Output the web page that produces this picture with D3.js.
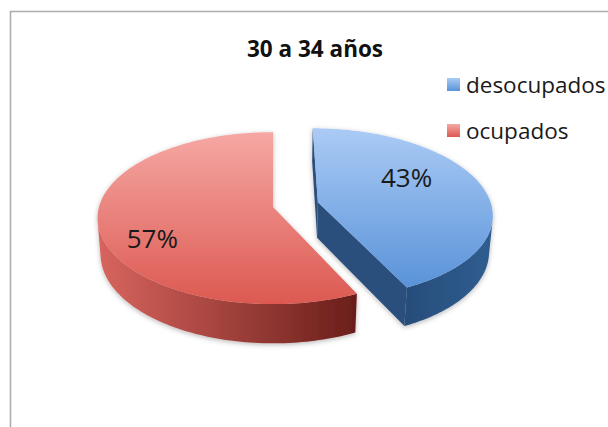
<!DOCTYPE html>
<html>
<head>
<meta charset="utf-8">
<script src="https://cdn.jsdelivr.net/npm/d3@7/dist/d3.min.js"></script>
<style>
  html, body { margin: 0; padding: 0; background: #ffffff; }
  svg { display: block; }
</style>
</head>
<body>
<svg id="chart" width="608" height="427"></svg>
<script>
// ---- data ----
const chartTitle = "30 a 34 años";
const categories = ["desocupados", "ocupados"];
const values = [43, 57];
const pctLabels = ["43%", "57%"];

// ---- style / layout constants ----
const FONT = "'Open Sans', 'DejaVu Sans', sans-serif";
const topColors  = [["#aacbf5", "#5a93d9"], ["#f6a8a4", "#dc5951"]];
const wallColors = [["#1f3c63", "#2f5d90"], ["#d8655e", "#6a1e1a"]];
const cutColors  = ["#2c507c", "#8f302b"];
const explodeAmt = [0.266, 0];
const labelNudge = [[-10, -14], [-17, 20]];

const svg = d3.select("#chart");
const W = 608, H = 427;
svg.append("rect").attr("width", W).attr("height", H).attr("fill", "#fff");

// frame (extends past the right and bottom edges)
svg.append("path").attr("d", "M10.5,427 V11.5 H608")
  .attr("fill", "none").attr("stroke", "#adadad").attr("stroke-width", 1.6);

// title
svg.append("text").attr("x", 315).attr("y", 57).attr("text-anchor", "middle")
  .attr("font-family", FONT).attr("font-weight", 700).attr("font-size", 22.5)
  .attr("fill", "#111").text(chartTitle);

const defs = svg.append("defs");
const sh = defs.append("filter").attr("id", "shadow")
  .attr("x", "-10%").attr("y", "-10%").attr("width", "120%").attr("height", "130%");
sh.append("feDropShadow").attr("dx", 0).attr("dy", 1.5).attr("stdDeviation", 2.5)
  .attr("flood-color", "#000").attr("flood-opacity", 0.28);

// ---- perspective projection of the pie disk ----
const SINP = 0.486, COSP = Math.sqrt(1 - SINP * SINP), FOC = 6.76, DEPTH = 0.24;
const sx = d3.scaleLinear().domain([0, 1]).range([273, 273 + 174]);
const sy = d3.scaleLinear().domain([0, 1]).range([207, 207 - 174]);
function project(X, Z, Y) {
  const d = Z * COSP - Y * SINP;
  const s = FOC / (FOC + d);
  return [sx(X * s), sy((Y * COSP + Z * SINP) * s)];
}
const eyeZ = -FOC * COSP;

const arcs = d3.pie().sort(null).startAngle(0).endAngle(2 * Math.PI)(values);

function gradient(id, x1, y1, x2, y2, c1, c2) {
  const g = defs.append("linearGradient").attr("id", id)
    .attr("gradientUnits", "userSpaceOnUse")
    .attr("x1", x1).attr("y1", y1).attr("x2", x2).attr("y2", y2);
  g.append("stop").attr("offset", 0).attr("stop-color", c1);
  g.append("stop").attr("offset", 1).attr("stop-color", c2);
  return "url(#" + id + ")";
}

const pieG = svg.append("g").attr("filter", "url(#shadow)");
const line = d3.line();
const order = [1, 0]; // draw red first, then blue

order.forEach(i => {
  const a = arcs[i];
  const mid = (a.startAngle + a.endAngle) / 2;
  const ox = explodeAmt[i] * Math.sin(mid), oz = explodeAmt[i] * Math.cos(mid);
  const P = (th, r, Y) => project(ox + r * Math.sin(th), oz + r * Math.cos(th), Y);
  const N = 160;
  const thetas = d3.range(N + 1).map(k => a.startAngle + (a.endAngle - a.startAngle) * k / N);
  const topPts = [P(0, 0, 0)].concat(thetas.map(t => P(t, 1, 0)));
  const xs = topPts.map(p => p[0]), ys = topPts.map(p => p[1]);
  const g = pieG.append("g");

  // radial cut faces
  const ex = -ox, ez = eyeZ - oz;
  [[a.startAngle, [-Math.cos(a.startAngle), Math.sin(a.startAngle)]],
   [a.endAngle, [Math.cos(a.endAngle), -Math.sin(a.endAngle)]]].forEach(([th, n]) => {
    if (n[0] * ex + n[1] * ez > 1e-6) {
      const pts = [P(th, 0, 0), P(th, 1, 0), P(th, 1, -DEPTH), P(th, 0, -DEPTH)];
      g.append("path").attr("d", line(pts) + "Z").attr("fill", cutColors[i]);
    }
  });

  // outer wall (visible part)
  const vis = thetas.map(t => (Math.sin(t) * ex + Math.cos(t) * ez) > 1);
  let runs = [], cur = null;
  thetas.forEach((t, k) => {
    if (vis[k]) { if (!cur) { cur = []; runs.push(cur); } cur.push(t); }
    else cur = null;
  });
  const wallFill = gradient("wall" + i, d3.min(xs), 0, d3.max(xs), 0, wallColors[i][0], wallColors[i][1]);
  runs.forEach(run => {
    if (run.length < 2) return;
    const pts = run.map(t => P(t, 1, 0)).concat(run.slice().reverse().map(t => P(t, 1, -DEPTH)));
    g.append("path").attr("d", line(pts) + "Z").attr("fill", wallFill);
  });

  // top face
  const topFill = gradient("top" + i, 0, d3.min(ys), 0, d3.max(ys), topColors[i][0], topColors[i][1]);
  g.append("path").attr("d", line(topPts) + "Z").attr("fill", topFill);

  // percentage label
  const lp = P(mid, 0.6, 0);
  svg.append("text")
    .attr("x", lp[0] + labelNudge[i][0]).attr("y", lp[1] + labelNudge[i][1])
    .attr("text-anchor", "middle").attr("dominant-baseline", "central")
    .attr("font-family", FONT).attr("font-size", 26).attr("fill", "#1a1a1a")
    .text(pctLabels[i]);
});

// ---- legend ----
const legend = svg.append("g");
categories.forEach((c, i) => {
  const y0 = 78 + i * 46;
  const lg = gradient("leg" + i, 0, y0, 0, y0 + 13, topColors[i][0], topColors[i][1]);
  legend.append("rect").attr("x", 447).attr("y", y0).attr("width", 13).attr("height", 13).attr("fill", lg);
  legend.append("text").attr("x", 466).attr("y", y0 + 6.5)
    .attr("dominant-baseline", "central")
    .attr("font-family", FONT).attr("font-size", 22.5).attr("fill", "#1a1a1a").text(c);
});
</script>
</body>
</html>
